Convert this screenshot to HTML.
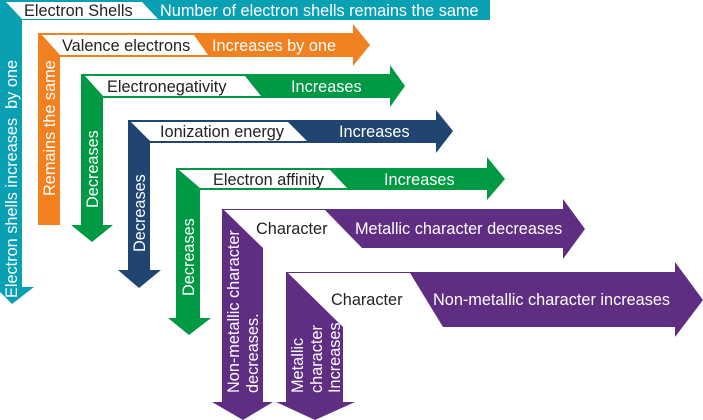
<!DOCTYPE html>
<html><head><meta charset="utf-8"><style>
html,body{margin:0;padding:0;background:#fff;}
svg{display:block;font-family:"Liberation Sans",Arial,sans-serif;}
.w{fill:#fff;font-size:16.3px;}
.b{fill:#222;font-size:16.3px;}
</style></head><body>
<svg width="703" height="420" viewBox="0 0 703 420" xmlns="http://www.w3.org/2000/svg">
<!-- Teal -->
<path d="M0,0 H490 V20 H22 V287 H34 L12,304 L0,292 Z" fill="#0aa0b4"/>
<polygon points="6,2 142,2 158,19 22,19" fill="#fff"/>
<!-- Orange -->
<path d="M38,33 H353 V24 L370,45 L353,66 V57 H60 V225 H38 Z" fill="#f08020"/>
<polygon points="42,35 194,35 208,55 60,55" fill="#fff"/>
<!-- Green1 -->
<path d="M81,74 H390 V65 L405,86 L390,107 V98 H103 V225 H113 L92,242 L71,225 H81 Z" fill="#009a44"/>
<polygon points="85,76 245,76 261,96 103,96" fill="#fff"/>
<!-- Navy -->
<path d="M128,120 H436 V110 L453,131 L436,153 V143 H150 V270 H161 L139,288 L118,270 H128 Z" fill="#1f4570"/>
<polygon points="131,122 288,122 307,141 150,141" fill="#fff"/>
<!-- Green2 -->
<path d="M176,168 H487 V157 L505,179 L487,200 V190 H200 V318 H211 L189,335 L168,318 H176 Z" fill="#009a44"/>
<polygon points="179,170 330,170 347,188 200,188" fill="#fff"/>
<!-- Purple1 -->
<path d="M222,209 H563 V199 L585,229 L563,259 V248 H263 V402 H273 L243,420 L212,402 H222 Z" fill="#5f2e82"/>
<polygon points="224,210 325,210 362,248 263,248" fill="#fff"/>
<!-- Purple2 -->
<path d="M286,272 H675 V262 L703,300 L675,337 V327 H343 V402 H355 L315,420 L276,402 H286 Z" fill="#5f2e82"/>
<polygon points="288,273 410,273 443,327 343,327" fill="#fff"/>

<!-- horizontal labels -->
<text class="b" x="24" y="16">Electron Shells</text>
<text class="w" x="160" y="16">Number of electron shells remains the same</text>
<text class="b" x="62" y="51">Valence electrons</text>
<text class="w" x="212" y="51">Increases by one</text>
<text class="b" x="107" y="92">Electronegativity</text>
<text class="w" x="291" y="92">Increases</text>
<text class="b" x="160" y="137">Ionization energy</text>
<text class="w" x="339" y="137">Increases</text>
<text class="b" x="213" y="185">Electron affinity</text>
<text class="w" x="384" y="185">Increases</text>
<text class="b" x="256" y="234">Character</text>
<text class="w" x="355" y="234">Metallic character decreases</text>
<text class="b" x="331" y="305">Character</text>
<text class="w" x="433" y="305">Non-metallic character increases</text>

<!-- vertical labels -->
<text class="w" transform="translate(17,298) rotate(-90)">Electron shells increases&#160; by one</text>
<text class="w" transform="translate(55,196) rotate(-90)">Remains the same</text>
<text class="w" transform="translate(98,208) rotate(-90)">Decreases</text>
<text class="w" transform="translate(145,252) rotate(-90)">Decreases</text>
<text class="w" transform="translate(194,296) rotate(-90)">Decreases</text>
<text class="w" transform="translate(239,393) rotate(-90)">Non-metallic character</text>
<text class="w" transform="translate(258,393) rotate(-90)">decreases.</text>
<text class="w" transform="translate(303,393) rotate(-90)">Metallic</text>
<text class="w" transform="translate(322,393) rotate(-90)">character</text>
<text class="w" transform="translate(340,393) rotate(-90)">Increases</text>
</svg>
</body></html>
